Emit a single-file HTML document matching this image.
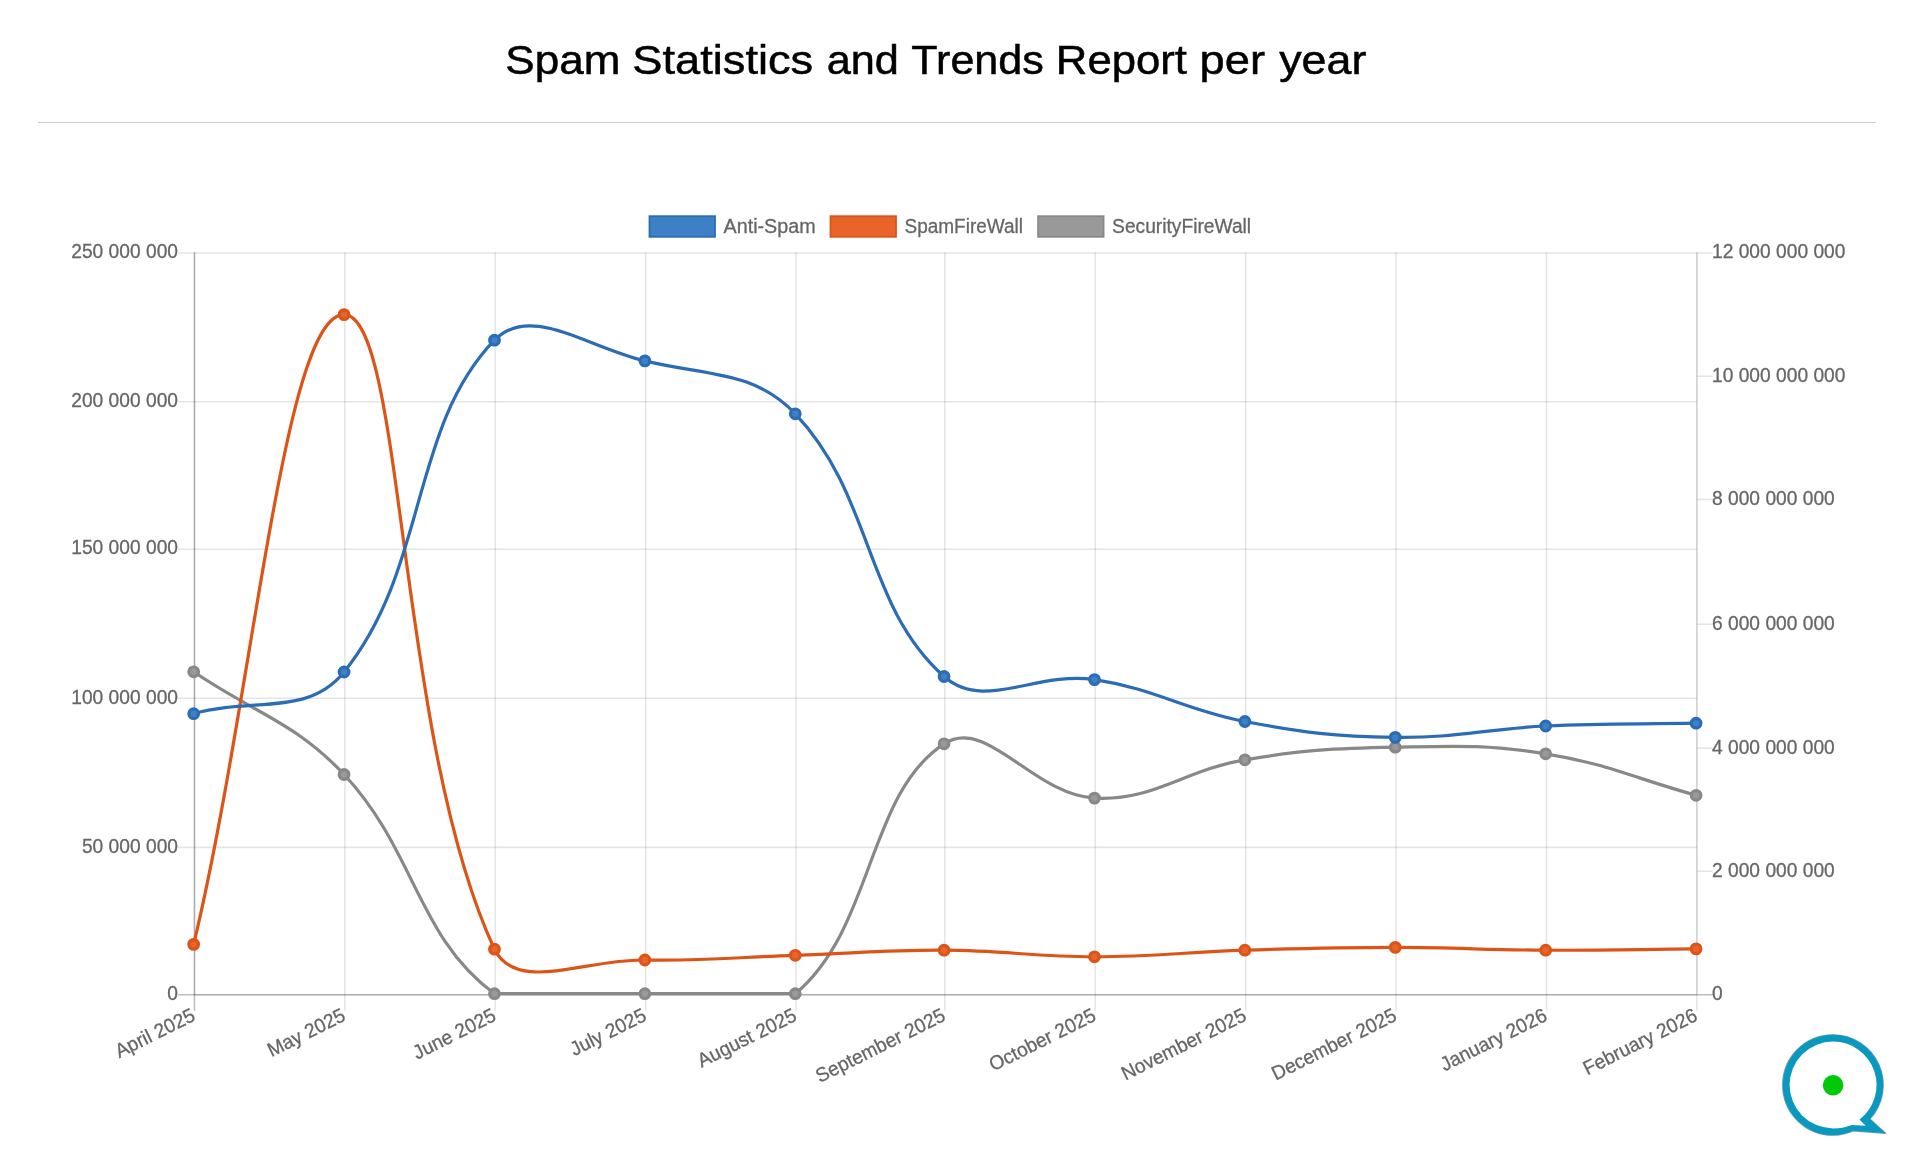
<!DOCTYPE html>
<html><head><meta charset="utf-8"><title>Spam Statistics and Trends Report per year</title>
<style>
html,body{margin:0;padding:0;background:#fff;}
body{width:1908px;height:1152px;position:relative;overflow:hidden;font-family:"Liberation Sans",sans-serif;}
hr{position:absolute;left:38px;top:122px;width:1838px;height:1px;border:0;margin:0;background:#cdcdcd;}
svg{position:absolute;left:0;top:0;will-change:transform;}
svg text.tt{font-size:40.2px;fill:#000;stroke:#000;stroke-width:0.5px;}
svg text{font-family:"Liberation Sans",sans-serif;font-size:19.8px;fill:#666;stroke:#666;stroke-width:0.3px;}
</style></head><body>
<hr>
<svg width="1908" height="1152" viewBox="0 0 1908 1152">
<text class="tt" x="505.28" y="74.1" textLength="115.08" lengthAdjust="spacingAndGlyphs">Spam</text>
<text class="tt" x="632.36" y="74.1" textLength="180.87" lengthAdjust="spacingAndGlyphs">Statistics</text>
<text class="tt" x="826.70" y="74.1" textLength="72.25" lengthAdjust="spacingAndGlyphs">and</text>
<text class="tt" x="911.37" y="74.1" textLength="132.48" lengthAdjust="spacingAndGlyphs">Trends</text>
<text class="tt" x="1055.89" y="74.1" textLength="131.13" lengthAdjust="spacingAndGlyphs">Report</text>
<text class="tt" x="1199.61" y="74.1" textLength="65.42" lengthAdjust="spacingAndGlyphs">per</text>
<text class="tt" x="1279.19" y="74.1" textLength="87.23" lengthAdjust="spacingAndGlyphs">year</text>
<g fill="none" stroke-width="1.60">
<line x1="194.47" y1="252.20" x2="194.47" y2="1010.75" stroke="rgba(0,0,0,0.25)"/>
<line x1="344.87" y1="252.20" x2="344.87" y2="1010.75" stroke="rgba(0,0,0,0.1)"/>
<line x1="495.27" y1="252.20" x2="495.27" y2="1010.75" stroke="rgba(0,0,0,0.1)"/>
<line x1="645.67" y1="252.20" x2="645.67" y2="1010.75" stroke="rgba(0,0,0,0.1)"/>
<line x1="796.07" y1="252.20" x2="796.07" y2="1010.75" stroke="rgba(0,0,0,0.1)"/>
<line x1="944.87" y1="252.20" x2="944.87" y2="1010.75" stroke="rgba(0,0,0,0.1)"/>
<line x1="1095.27" y1="252.20" x2="1095.27" y2="1010.75" stroke="rgba(0,0,0,0.1)"/>
<line x1="1245.67" y1="252.20" x2="1245.67" y2="1010.75" stroke="rgba(0,0,0,0.1)"/>
<line x1="1396.07" y1="252.20" x2="1396.07" y2="1010.75" stroke="rgba(0,0,0,0.1)"/>
<line x1="1546.47" y1="252.20" x2="1546.47" y2="1010.75" stroke="rgba(0,0,0,0.1)"/>
<line x1="1696.87" y1="252.20" x2="1696.87" y2="1010.75" stroke="rgba(0,0,0,0.1)"/>
<line x1="177.67" y1="253.00" x2="1696.87" y2="253.00" stroke="rgba(0,0,0,0.1)"/>
<line x1="177.67" y1="401.80" x2="1696.87" y2="401.80" stroke="rgba(0,0,0,0.1)"/>
<line x1="177.67" y1="549.30" x2="1696.87" y2="549.30" stroke="rgba(0,0,0,0.1)"/>
<line x1="177.67" y1="698.30" x2="1696.87" y2="698.30" stroke="rgba(0,0,0,0.1)"/>
<line x1="177.67" y1="847.40" x2="1696.87" y2="847.40" stroke="rgba(0,0,0,0.1)"/>
<line x1="177.67" y1="994.75" x2="1696.87" y2="994.75" stroke="rgba(0,0,0,0.25)"/>
<line x1="1696.87" y1="253.00" x2="1712.67" y2="253.00" stroke="rgba(0,0,0,0.1)"/>
<line x1="1696.87" y1="376.20" x2="1712.67" y2="376.20" stroke="rgba(0,0,0,0.1)"/>
<line x1="1696.87" y1="499.50" x2="1712.67" y2="499.50" stroke="rgba(0,0,0,0.1)"/>
<line x1="1696.87" y1="624.20" x2="1712.67" y2="624.20" stroke="rgba(0,0,0,0.1)"/>
<line x1="1696.87" y1="748.10" x2="1712.67" y2="748.10" stroke="rgba(0,0,0,0.1)"/>
<line x1="1696.87" y1="871.30" x2="1712.67" y2="871.30" stroke="rgba(0,0,0,0.1)"/>
<line x1="1696.87" y1="994.75" x2="1712.67" y2="994.75" stroke="rgba(0,0,0,0.25)"/>
<line x1="194.47" y1="252.20" x2="194.47" y2="994.75" stroke="rgba(0,0,0,0.1)"/>
<line x1="1696.87" y1="252.20" x2="1696.87" y2="994.75" stroke="rgba(0,0,0,0.1)"/>
<line x1="193.67" y1="994.75" x2="1696.87" y2="994.75" stroke="rgba(0,0,0,0.1)"/>
</g>
<text transform="translate(178.00 258.07) scale(0.9697 1)" text-anchor="end">250&#160;000&#160;000</text>
<text transform="translate(178.00 407.12) scale(0.9697 1)" text-anchor="end">200&#160;000&#160;000</text>
<text transform="translate(178.00 554.47) scale(0.9697 1)" text-anchor="end">150&#160;000&#160;000</text>
<text transform="translate(178.00 703.52) scale(0.9697 1)" text-anchor="end">100&#160;000&#160;000</text>
<text transform="translate(178.00 852.82) scale(0.9697 1)" text-anchor="end">50&#160;000&#160;000</text>
<text transform="translate(178.00 999.97) scale(0.9697 1)" text-anchor="end">0</text>
<text transform="translate(1712.00 257.98) scale(0.9697 1)">12&#160;000&#160;000&#160;000</text>
<text transform="translate(1712.00 382.03) scale(0.9697 1)">10&#160;000&#160;000&#160;000</text>
<text transform="translate(1712.00 505.32) scale(0.9697 1)">8&#160;000&#160;000&#160;000</text>
<text transform="translate(1712.00 630.42) scale(0.9697 1)">6&#160;000&#160;000&#160;000</text>
<text transform="translate(1712.00 753.92) scale(0.9697 1)">4&#160;000&#160;000&#160;000</text>
<text transform="translate(1712.00 876.62) scale(0.9697 1)">2&#160;000&#160;000&#160;000</text>
<text transform="translate(1712.00 999.88) scale(0.9697 1)">0</text>
<text transform="translate(193.47 1013.60) rotate(-26.50) scale(0.9697 1)" text-anchor="end" y="6.8">April 2025</text>
<text transform="translate(343.87 1013.60) rotate(-26.50) scale(0.9697 1)" text-anchor="end" y="6.8">May 2025</text>
<text transform="translate(494.27 1013.60) rotate(-26.50) scale(0.9697 1)" text-anchor="end" y="6.8">June 2025</text>
<text transform="translate(644.67 1013.60) rotate(-26.50) scale(0.9697 1)" text-anchor="end" y="6.8">July 2025</text>
<text transform="translate(795.07 1013.60) rotate(-26.50) scale(0.9697 1)" text-anchor="end" y="6.8">August 2025</text>
<text transform="translate(943.87 1013.60) rotate(-26.50) scale(0.9697 1)" text-anchor="end" y="6.8">September 2025</text>
<text transform="translate(1094.27 1013.60) rotate(-26.50) scale(0.9697 1)" text-anchor="end" y="6.8">October 2025</text>
<text transform="translate(1244.67 1013.60) rotate(-26.50) scale(0.9697 1)" text-anchor="end" y="6.8">November 2025</text>
<text transform="translate(1395.07 1013.60) rotate(-26.50) scale(0.9697 1)" text-anchor="end" y="6.8">December 2025</text>
<text transform="translate(1545.47 1013.60) rotate(-26.50) scale(0.9697 1)" text-anchor="end" y="6.8">January 2026</text>
<text transform="translate(1695.87 1013.60) rotate(-26.50) scale(0.9697 1)" text-anchor="end" y="6.8">February 2026</text>
<rect x="649.50" y="216.20" width="65.50" height="20.60" fill="#3c80c6" stroke="#2b6cb5" stroke-width="1.8"/>
<text transform="translate(723.50 232.90) scale(0.9988 1)">Anti-Spam</text>
<rect x="830.50" y="216.20" width="65.50" height="20.60" fill="#e8642a" stroke="#dc5518" stroke-width="1.8"/>
<text transform="translate(904.50 232.90) scale(0.9600 1)">SpamFireWall</text>
<rect x="1038.10" y="216.20" width="65.50" height="20.60" fill="#999999" stroke="#888888" stroke-width="1.8"/>
<text transform="translate(1112.10 232.90) scale(0.9697 1)">SecurityFireWall</text>
<path d="M193.67 671.80 C253.83 712.88 295.15 722.15 344.07 774.50 C415.47 850.91 417.63 937.70 494.47 993.70 C537.95 993.95 584.71 993.70 644.87 993.70 C705.03 993.70 754.48 993.95 795.27 993.70 C874.16 927.81 866.85 794.28 944.07 743.80 C986.53 716.04 1033.41 794.85 1094.47 798.10 C1153.73 801.25 1183.87 770.12 1244.87 759.80 C1304.19 749.76 1335.03 748.40 1395.27 747.20 C1455.35 746.00 1486.58 744.35 1545.67 753.80 C1606.90 763.59 1635.91 778.70 1696.07 795.30" fill="none" stroke="#888888" stroke-width="3.2" stroke-linejoin="miter" stroke-linecap="butt"/>
<circle cx="193.67" cy="671.80" r="4.8" fill="#999999" stroke="#888888" stroke-width="3.2"/>
<circle cx="344.07" cy="774.50" r="4.8" fill="#999999" stroke="#888888" stroke-width="3.2"/>
<circle cx="494.47" cy="993.70" r="4.8" fill="#999999" stroke="#888888" stroke-width="3.2"/>
<circle cx="644.87" cy="993.70" r="4.8" fill="#999999" stroke="#888888" stroke-width="3.2"/>
<circle cx="795.27" cy="993.70" r="4.8" fill="#999999" stroke="#888888" stroke-width="3.2"/>
<circle cx="944.07" cy="743.80" r="4.8" fill="#999999" stroke="#888888" stroke-width="3.2"/>
<circle cx="1094.47" cy="798.10" r="4.8" fill="#999999" stroke="#888888" stroke-width="3.2"/>
<circle cx="1244.87" cy="759.80" r="4.8" fill="#999999" stroke="#888888" stroke-width="3.2"/>
<circle cx="1395.27" cy="747.20" r="4.8" fill="#999999" stroke="#888888" stroke-width="3.2"/>
<circle cx="1545.67" cy="753.80" r="4.8" fill="#999999" stroke="#888888" stroke-width="3.2"/>
<circle cx="1696.07" cy="795.30" r="4.8" fill="#999999" stroke="#888888" stroke-width="3.2"/>
<path d="M193.67 944.35 C253.83 692.45 284.13 313.63 344.07 314.60 C404.45 315.57 396.74 739.52 494.47 949.20 C517.06 993.95 584.65 958.78 644.87 960.00 C704.97 961.22 735.11 957.27 795.27 955.30 C854.79 953.35 884.56 949.90 944.07 950.20 C1004.24 950.50 1034.31 956.80 1094.47 956.80 C1154.63 956.80 1184.69 952.08 1244.87 950.20 C1305.01 948.32 1335.11 947.40 1395.27 947.40 C1455.43 947.40 1485.51 949.90 1545.67 950.20 C1605.83 950.50 1635.91 949.42 1696.07 948.90" fill="none" stroke="#dc5518" stroke-width="3.2" stroke-linejoin="miter" stroke-linecap="butt"/>
<circle cx="193.67" cy="944.35" r="4.8" fill="#e8642a" stroke="#dc5518" stroke-width="3.2"/>
<circle cx="344.07" cy="314.60" r="4.8" fill="#e8642a" stroke="#dc5518" stroke-width="3.2"/>
<circle cx="494.47" cy="949.20" r="4.8" fill="#e8642a" stroke="#dc5518" stroke-width="3.2"/>
<circle cx="644.87" cy="960.00" r="4.8" fill="#e8642a" stroke="#dc5518" stroke-width="3.2"/>
<circle cx="795.27" cy="955.30" r="4.8" fill="#e8642a" stroke="#dc5518" stroke-width="3.2"/>
<circle cx="944.07" cy="950.20" r="4.8" fill="#e8642a" stroke="#dc5518" stroke-width="3.2"/>
<circle cx="1094.47" cy="956.80" r="4.8" fill="#e8642a" stroke="#dc5518" stroke-width="3.2"/>
<circle cx="1244.87" cy="950.20" r="4.8" fill="#e8642a" stroke="#dc5518" stroke-width="3.2"/>
<circle cx="1395.27" cy="947.40" r="4.8" fill="#e8642a" stroke="#dc5518" stroke-width="3.2"/>
<circle cx="1545.67" cy="950.20" r="4.8" fill="#e8642a" stroke="#dc5518" stroke-width="3.2"/>
<circle cx="1696.07" cy="948.90" r="4.8" fill="#e8642a" stroke="#dc5518" stroke-width="3.2"/>
<path d="M193.67 713.70 C253.83 697.02 307.98 716.81 344.07 672.00 C428.30 567.41 409.54 428.04 494.47 340.20 C529.86 303.60 586.18 346.54 644.87 360.90 C706.50 375.98 753.91 370.17 795.27 413.80 C873.59 496.41 864.19 605.54 944.07 676.50 C983.87 711.86 1035.43 670.77 1094.47 679.60 C1155.75 688.77 1183.75 709.76 1244.87 721.50 C1304.07 732.88 1335.03 736.50 1395.27 737.40 C1455.35 738.30 1485.43 728.84 1545.67 726.00 C1605.75 723.16 1635.91 724.32 1696.07 723.20" fill="none" stroke="#2b6cb5" stroke-width="3.2" stroke-linejoin="miter" stroke-linecap="butt"/>
<circle cx="193.67" cy="713.70" r="4.8" fill="#3c80c6" stroke="#2b6cb5" stroke-width="3.2"/>
<circle cx="344.07" cy="672.00" r="4.8" fill="#3c80c6" stroke="#2b6cb5" stroke-width="3.2"/>
<circle cx="494.47" cy="340.20" r="4.8" fill="#3c80c6" stroke="#2b6cb5" stroke-width="3.2"/>
<circle cx="644.87" cy="360.90" r="4.8" fill="#3c80c6" stroke="#2b6cb5" stroke-width="3.2"/>
<circle cx="795.27" cy="413.80" r="4.8" fill="#3c80c6" stroke="#2b6cb5" stroke-width="3.2"/>
<circle cx="944.07" cy="676.50" r="4.8" fill="#3c80c6" stroke="#2b6cb5" stroke-width="3.2"/>
<circle cx="1094.47" cy="679.60" r="4.8" fill="#3c80c6" stroke="#2b6cb5" stroke-width="3.2"/>
<circle cx="1244.87" cy="721.50" r="4.8" fill="#3c80c6" stroke="#2b6cb5" stroke-width="3.2"/>
<circle cx="1395.27" cy="737.40" r="4.8" fill="#3c80c6" stroke="#2b6cb5" stroke-width="3.2"/>
<circle cx="1545.67" cy="726.00" r="4.8" fill="#3c80c6" stroke="#2b6cb5" stroke-width="3.2"/>
<circle cx="1696.07" cy="723.20" r="4.8" fill="#3c80c6" stroke="#2b6cb5" stroke-width="3.2"/>
<g id="logo">
<path d="M1833 1034.8 A50.2 50.2 0 1 0 1833 1135.2 C1842 1135.2 1848 1132.9 1853 1130.8 L1885.5 1133.3 L1869.9 1119 A50.2 50.2 0 0 0 1833 1034.8 Z" fill="none" stroke="#064f66" stroke-opacity="0.55" stroke-width="1.3" stroke-linejoin="round"/>
<path d="M1833 1034.8 A50.2 50.2 0 1 0 1833 1135.2 C1842 1135.2 1848 1132.9 1853 1130.8 L1885.5 1133.3 L1869.9 1119 A50.2 50.2 0 0 0 1833 1034.8 Z M1833 1041.6 a43.4 43.4 0 0 1 26.6 77.8 l0.5 0.9 l5.6 5.5 l-13.8 -0.8 c-5 2 -11 3.4 -18.9 3.4 a43.4 43.4 0 0 1 0 -86.8 z" fill="#0999be" fill-rule="evenodd"/>
<circle cx="1833.1" cy="1085.3" r="10.3" fill="#02c80a"/>
</g>
</svg>
</body></html>
